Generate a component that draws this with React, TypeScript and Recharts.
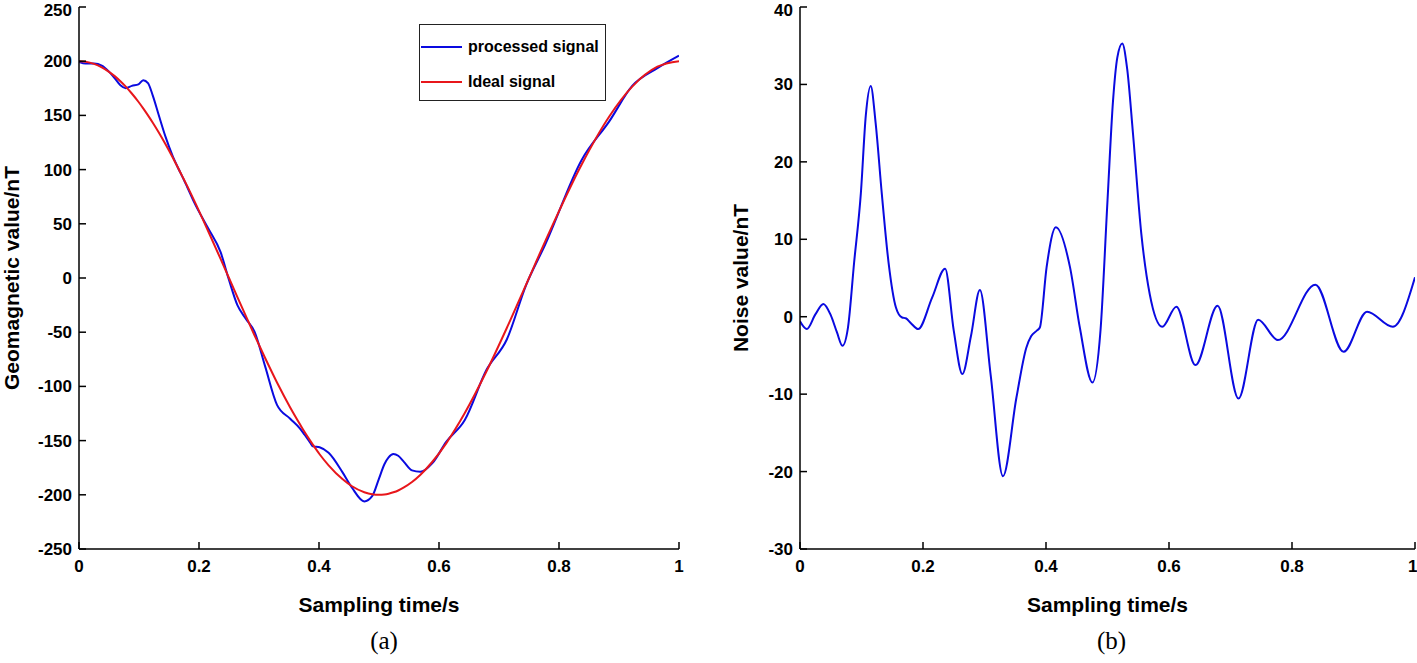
import React from 'react';
import { LineChart, Line, XAxis, YAxis, Legend } from 'recharts';

// sampling instants (s), shared by every series
const time = [
  0, 0.011, 0.025, 0.038, 0.05, 0.06, 0.069, 0.078, 0.088, 0.099, 0.107, 0.115, 0.123, 0.133, 0.144,
  0.156, 0.166, 0.172, 0.18, 0.192, 0.215, 0.236, 0.25, 0.264, 0.278, 0.2925, 0.31, 0.33, 0.352, 0.368,
  0.376, 0.385, 0.39, 0.401, 0.416, 0.439, 0.455, 0.4755, 0.4886, 0.5, 0.509, 0.516, 0.524, 0.532, 0.5415,
  0.555, 0.5687, 0.589, 0.612, 0.643, 0.679, 0.713, 0.745, 0.777, 0.838, 0.884, 0.922, 0.964, 1,
];

// (a) geomagnetic value, nT
const idealSignal = [
  200, 199.5, 197.5, 194.3, 190.2, 186, 181.5, 176.5, 170.2, 162.6, 156.5, 150, 143.2, 134.2, 123.6,
  111.4, 100.6, 94, 85.2, 71.4, 43.6, 17.6, 0, -17.6, -35, -52.8, -73.6, -96.4, -119.4, -134.7,
  -142.1, -149.8, -153.9, -162.6, -172.8, -185.5, -192.1, -197.6, -199.5, -200, -199.7, -199, -197.7, -196, -193.2,
  -188.2, -181.7, -169.5, -152.5, -124.6, -86.3, -46.1, -6.3, 33.8, 105, 149.2, 176.5, 194.9, 200,
];

const processedSignal = [
  199.4, 197.9, 197.8, 196, 190.4, 184, 177.8, 175.1, 177.2, 178.6, 182.5, 179.8, 168.2, 150.1, 130.6,
  112.6, 100.5, 93.8, 84.4, 69.8, 46.1, 23.8, -1.8, -25, -37.5, -49.4, -81.1, -117, -129.8, -138.7,
  -144.6, -151.6, -155.3, -156.2, -161.3, -179.1, -193.5, -206.1, -201.3, -185, -171.8, -165.5, -162.4, -164, -169.6,
  -177.5, -178.8, -170.8, -151.2, -130.9, -84.9, -56.7, -6.7, 30.8, 109.1, 144.7, 177.2, 193.6, 205.1,
];

// (b) noise value, nT
const noiseSignal = [
  -0.6, -1.6, 0.3, 1.65, 0.2, -2, -3.75, -1.4, 7, 16, 26, 29.8, 25, 15.9, 7,
  1.2, -0.1, -0.2, -0.8, -1.6, 2.5, 6.2, -1.8, -7.4, -2.5, 3.45, -7.5, -20.6, -10.4, -4,
  -2.5, -1.8, -1.4, 6.4, 11.55, 6.4, -1.4, -8.5, -1.8, 15, 27.9, 33.5, 35.3, 32, 23.6,
  10.7, 2.9, -1.3, 1.3, -6.25, 1.42, -10.57, -0.39, -3.02, 4.14, -4.53, 0.65, -1.3, 5.1,
];

const timeTicks = [0, 0.2, 0.4, 0.6, 0.8, 1];
const geoTicks = [-250, -200, -150, -100, -50, 0, 50, 100, 150, 200, 250];
const noiseTicks = [-30, -20, -10, 0, 10, 20, 30, 40];

const geoData = time.map((t, i) => ({ t, processed: processedSignal[i], ideal: idealSignal[i] }));
const noiseData = time.map((t, i) => ({ t, noise: noiseSignal[i] }));

const BLUE = '#0a0ae0';
const RED = '#e8161b';
const SANS = '"Liberation Sans", Arial, Helvetica, sans-serif';
const SERIF = '"Liberation Serif", "Times New Roman", serif';

const tickStyle = { fill: '#000', fontSize: 17, fontWeight: 700, fontFamily: SANS };
const titleStyle = { fill: '#000', fontSize: 21, fontWeight: 700, fontFamily: SANS };
const axisLine = { stroke: '#000', strokeWidth: 1.5 };
const boxTickLine = { stroke: '#333', strokeWidth: 1.3 };
const noTick = () => <g />;

const yTitle = (text: string, dx: number) => (props: any) => {
  const { x, y, height } = props.viewBox;
  const cx = x + dx;
  const cy = y + height / 2;
  return (
    <text x={cx} y={cy} transform={`rotate(-90 ${cx} ${cy})`} textAnchor="middle" dominantBaseline="central" style={titleStyle}>
      {text}
    </text>
  );
};

const xTitle = (text: string, caption: string, captionDx: number) => (props: any) => {
  const { x, y, width } = props.viewBox;
  const cx = x + width / 2;
  return (
    <g>
      <text x={cx} y={y + 63} textAnchor="middle" style={titleStyle}>{text}</text>
      <text x={cx + captionDx} y={y + 100} textAnchor="middle" style={{ fill: '#000', fontSize: 25, fontFamily: SERIF }}>
        {caption}
      </text>
    </g>
  );
};

const legendItems = [
  { label: 'processed signal', color: BLUE },
  { label: 'Ideal signal', color: RED },
];

function SignalLegend() {
  return (
    <div
      style={{
        width: 187,
        height: 77,
        boxSizing: 'border-box',
        border: '1.5px solid #222',
        background: '#fff',
        paddingTop: 12,
      }}
    >
      {legendItems.map((item, i) => (
        <div key={item.label} style={{ display: 'flex', alignItems: 'center', height: 19, marginTop: i ? 16 : 0 }}>
          <span style={{ display: 'inline-block', width: 41, height: 2, marginLeft: 1, background: item.color }} />
          <span style={{ marginLeft: 6, fontFamily: SANS, fontWeight: 700, fontSize: 16, color: '#000', whiteSpace: 'nowrap' }}>
            {item.label}
          </span>
        </div>
      ))}
    </div>
  );
}

export default function App() {
  return (
    <div style={{ position: 'absolute', left: 0, top: 0, width: 1417, height: 663, background: '#fff' }}>
      <div style={{ position: 'absolute', left: 0, top: 0 }}>
        <LineChart width={700} height={663} data={geoData} margin={{ top: 7, right: 21, bottom: 0, left: 0 }}>
          <XAxis
            xAxisId="b"
            dataKey="t"
            type="number"
            domain={[0, 1]}
            ticks={timeTicks}
            allowDataOverflow
            height={114}
            tickSize={-7}
            tickMargin={18}
            tick={tickStyle}
            axisLine={axisLine}
            tickLine={axisLine}
            label={xTitle('Sampling time/s', '(a)', 5)}
          />
          <XAxis
            xAxisId="top"
            orientation="top"
            dataKey="t"
            type="number"
            domain={[0, 1]}
            ticks={timeTicks}
            allowDataOverflow
            height={0}
            tickSize={-7}
            tick={noTick}
            axisLine={axisLine}
            tickLine={boxTickLine}
          />
          <YAxis
            yAxisId="l"
            type="number"
            domain={[-250, 250]}
            ticks={geoTicks}
            allowDataOverflow
            width={79}
            tickSize={-7}
            tickMargin={14}
            tick={tickStyle}
            axisLine={axisLine}
            tickLine={axisLine}
            label={yTitle('Geomagnetic value/nT', 11)}
          />
          <YAxis
            yAxisId="r"
            orientation="right"
            type="number"
            domain={[-250, 250]}
            ticks={geoTicks}
            allowDataOverflow
            width={0}
            tickSize={-7}
            tick={noTick}
            axisLine={axisLine}
            tickLine={boxTickLine}
          />
          <Legend
            layout="vertical"
            align="center"
            verticalAlign="middle"
            content={() => <SignalLegend />}
            wrapperStyle={{ left: 419, top: 24, width: 187, height: 77 }}
          />
          <Line
            xAxisId="b"
            yAxisId="l"
            type="monotone"
            dataKey="processed"
            name="processed signal"
            stroke={BLUE}
            strokeWidth={2}
            dot={false}
            isAnimationActive={false}
          />
          <Line
            xAxisId="b"
            yAxisId="l"
            type="monotone"
            dataKey="ideal"
            name="Ideal signal"
            stroke={RED}
            strokeWidth={2}
            dot={false}
            isAnimationActive={false}
          />
        </LineChart>
      </div>

      <div style={{ position: 'absolute', left: 700, top: 0 }}>
        <LineChart width={717} height={663} data={noiseData} margin={{ top: 7, right: 2, bottom: 0, left: 0 }}>
          <XAxis
            xAxisId="b"
            dataKey="t"
            type="number"
            domain={[0, 1]}
            ticks={timeTicks}
            allowDataOverflow
            height={114}
            tickSize={-7}
            tickMargin={18}
            tick={tickStyle}
            axisLine={axisLine}
            tickLine={axisLine}
            label={xTitle('Sampling time/s', '(b)', 4)}
          />
          <XAxis
            xAxisId="top"
            orientation="top"
            dataKey="t"
            type="number"
            domain={[0, 1]}
            ticks={timeTicks}
            allowDataOverflow
            height={0}
            tickSize={-7}
            tick={noTick}
            axisLine={axisLine}
            tickLine={boxTickLine}
          />
          <YAxis
            yAxisId="l"
            type="number"
            domain={[-30, 40]}
            ticks={noiseTicks}
            allowDataOverflow
            width={100}
            tickSize={-7}
            tickMargin={14}
            tick={tickStyle}
            axisLine={axisLine}
            tickLine={axisLine}
            label={yTitle('Noise value/nT', 40)}
          />
          <YAxis
            yAxisId="r"
            orientation="right"
            type="number"
            domain={[-30, 40]}
            ticks={noiseTicks}
            allowDataOverflow
            width={0}
            tickSize={-7}
            tick={noTick}
            axisLine={axisLine}
            tickLine={boxTickLine}
          />
          <Line
            xAxisId="b"
            yAxisId="l"
            type="monotone"
            dataKey="noise"
            stroke={BLUE}
            strokeWidth={2}
            dot={false}
            isAnimationActive={false}
          />
        </LineChart>
      </div>
    </div>
  );
}
